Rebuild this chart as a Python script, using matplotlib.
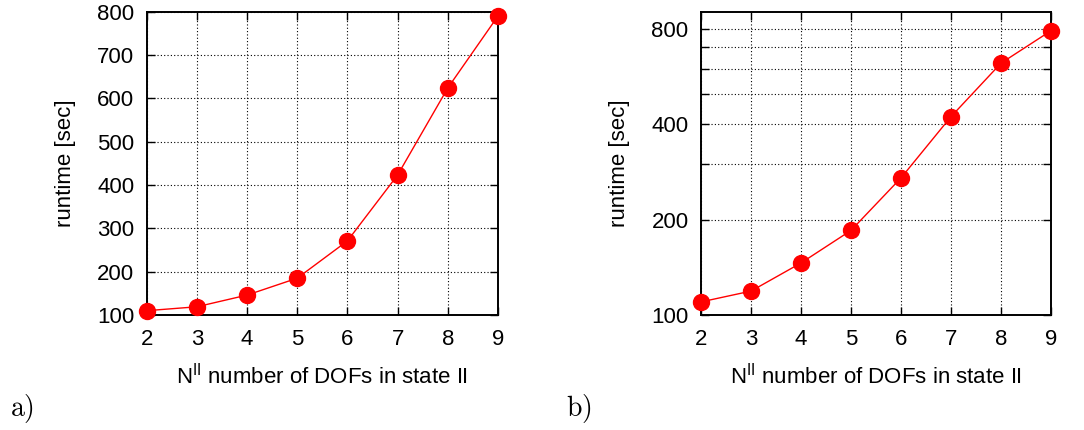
import matplotlib
matplotlib.use("Agg")
import matplotlib.pyplot as plt
from matplotlib.ticker import FixedLocator, NullFormatter

plt.rcParams["font.family"] = ["Liberation Sans", "DejaVu Sans"]
plt.rcParams["mathtext.fontset"] = "custom"
plt.rcParams["mathtext.rm"] = "Liberation Sans"

# runtime per number of DOFs in state II
dofs = [2, 3, 4, 5, 6, 7, 8, 9]
runtime = [110, 119, 146, 185, 271, 423, 624, 790]

lin_ticks = [100, 200, 300, 400, 500, 600, 700, 800]
log_major = [100, 200, 400, 800]
log_minor = [300, 500, 600, 700]

xlabel = r"N$^{\mathrm{II}}$ number of DOFs in state II"
ylabel = "runtime [sec]"


def style_axes(ax):
    ax.plot(dofs, runtime, color="red", lw=1.0, marker="o", ms=11.5,
            mec="red", mfc="red", zorder=3, clip_on=False)
    ax.set_xlim(2, 9)
    ax.set_xticks(dofs)
    ax.grid(True, which="both", color="black", ls=(0, (1, 2)), lw=0.8)
    ax.tick_params(which="both", direction="in", top=True, right=True,
                   labelsize=16, length=6, width=1.0)
    ax.tick_params(axis="x", pad=10)
    ax.tick_params(axis="y", pad=9)
    for s in ax.spines.values():
        s.set_linewidth(1.4)
    ax.set_xlabel(xlabel, fontsize=16, labelpad=9)
    ax.set_ylabel(ylabel, fontsize=16, labelpad=15)


fig = plt.figure(figsize=(10.84, 4.30), dpi=100)

# a) linear runtime axis
ax1 = fig.add_axes([0.1353, 0.2674, 0.3241, 0.7054])
style_axes(ax1)
ax1.set_ylim(100, 800)
ax1.set_yticks(lin_ticks)

# b) logarithmic runtime axis
ax2 = fig.add_axes([0.6467, 0.2674, 0.3229, 0.7047])
style_axes(ax2)
ax2.set_yscale("log", base=2)
ax2.set_ylim(100, 905)
ax2.yaxis.set_major_locator(FixedLocator(log_major))
ax2.yaxis.set_major_formatter(plt.FuncFormatter(lambda v, p: f"{v:.0f}"))
ax2.yaxis.set_minor_locator(FixedLocator(log_minor))
ax2.yaxis.set_minor_formatter(NullFormatter())

fig.text(0.009, 0.051, r"$\mathrm{a)}$", fontsize=20, math_fontfamily="cm",
         va="center", ha="left")
fig.text(0.522, 0.051, r"$\mathrm{b)}$", fontsize=20, math_fontfamily="cm",
         va="center", ha="left")

fig.savefig("out.png", dpi=100)
